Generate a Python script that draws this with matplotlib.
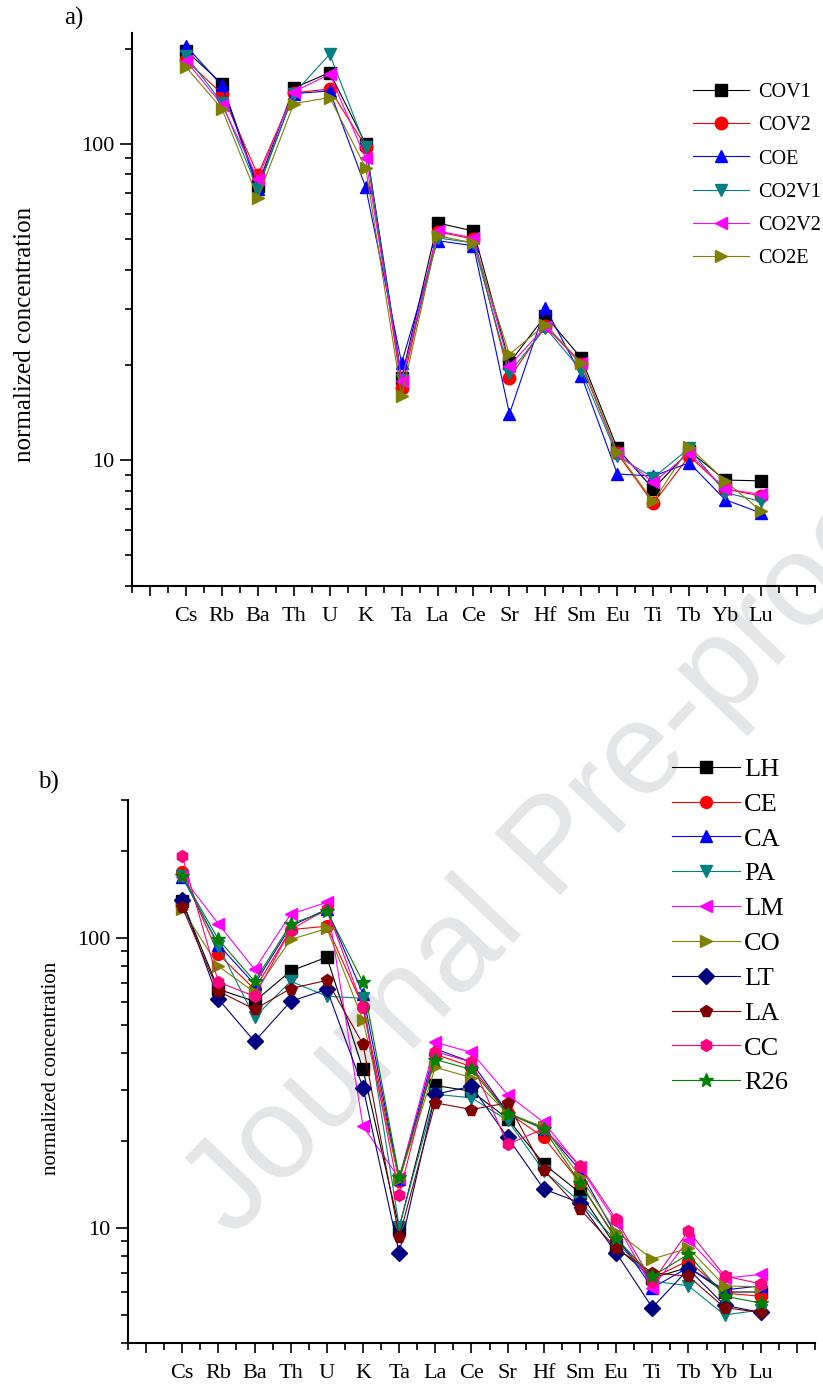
import matplotlib
matplotlib.use('Agg')
import matplotlib.pyplot as plt
from matplotlib.ticker import FixedLocator, LogLocator, NullFormatter, FixedFormatter, FuncFormatter

plt.rcParams['font.family'] = ['Liberation Serif', 'DejaVu Serif']

elements = ['Cs', 'Rb', 'Ba', 'Th', 'U', 'K', 'Ta', 'La', 'Ce', 'Sr',
            'Hf', 'Sm', 'Eu', 'Ti', 'Tb', 'Yb', 'Lu']

# panel a) values
cov1 = [197, 155, 73.7, 150, 168, 100, 18.2, 56.2, 53, 20.3, 28.6, 21.0, 10.9, 8.1, 10.7, 8.65, 8.6]
cov2 = [184, 144, 79.8, 145, 149, 98, 16.9, 52.7, 50, 18.2, 26.6, 20.1, 10.5, 7.3, 10.3, 8.1, 7.7]
coe = [204, 153, 72, 144, 147, 73, 20.3, 49.4, 47.6, 14.0, 30.3, 18.5, 9.04, 8.9, 9.8, 7.5, 6.8]
co2v1 = [190, 135, 72, 144, 192, 98, 17.9, 50.4, 48.6, 18.9, 26.2, 19.2, 10.3, 8.8, 10.9, 7.9, 7.4]
co2v2 = [183, 133, 77.5, 146, 166, 90, 17.8, 53, 50.4, 19.9, 26.4, 20.3, 10.5, 8.5, 10.5, 8.1, 7.8]
co2e = [175, 129, 67.5, 134, 140, 84, 15.9, 51.2, 48.6, 21.6, 26.8, 20.3, 10.6, 7.4, 11.0, 8.6, 6.9]

# panel b) values
lh = [134, 66.6, 60.5, 77, 86, 35.2, 10, 31.0, 29.6, 23.8, 16.6, 13.2, 8.6, 6.7, 7.3, 6.0, 6.0]
ce = [169, 88, 66.6, 107, 110, 58, 14.5, 39.7, 36, 25, 20.5, 14.3, 9.1, 6.7, 7.7, 5.95, 5.8]
ca = [163, 95, 69.3, 110, 126, 64, 14.7, 41.5, 37.3, 25, 22, 15.8, 9.4, 6.2, 7.3, 6.1, 6.3]
pa = [164, 94, 53.3, 71, 63, 62, 10.1, 28.9, 28.1, 23.5, 15.7, 12.3, 9.0, 6.55, 6.3, 5.0, 5.2]
lm = [163, 112, 78, 121, 133, 22.4, 14.8, 43.7, 40.3, 28.8, 23.1, 16.2, 10.4, 6.2, 9.1, 6.7, 6.9]
co = [126, 80, 65, 99, 108, 52.1, 14.7, 35.8, 33, 24.8, 22.3, 15, 9.7, 7.8, 8.5, 6.3, 6.25]
lt = [135, 61.6, 44.0, 60.5, 66.6, 30.5, 8.2, 28.9, 30.8, 20.5, 13.6, 12.2, 8.2, 5.3, 7.2, 5.4, 5.1]
la = [128, 65.6, 56.8, 67, 71.5, 43.0, 9.3, 27.0, 25.6, 27.0, 15.8, 11.6, 8.5, 7.0, 6.8, 5.3, 5.1]
cc = [192, 70.5, 63, 107, 126, 57.7, 13.0, 40.6, 37.3, 19.4, 22, 16.4, 10.7, 6.5, 9.76, 6.82, 6.4]
r26 = [164, 99, 71, 112, 124, 70.5, 15.0, 38.1, 35.2, 24.8, 21.9, 14.3, 9.2, 6.8, 8.1, 5.8, 5.5]

seriesA = [('COV1', cov1, 'black', 's'), ('COV2', cov2, 'red', 'o'),
           ('COE', coe, 'blue', '^'), ('CO2V1', co2v1, '#008080', 'v'),
           ('CO2V2', co2v2, 'magenta', '<'), ('CO2E', co2e, '#808000', '>')]
seriesB = [('LH', lh, 'black', 's'), ('CE', ce, 'red', 'o'),
           ('CA', ca, 'blue', '^'), ('PA', pa, '#008080', 'v'),
           ('LM', lm, 'magenta', '<'), ('CO', co, '#808000', '>'),
           ('LT', lt, '#000080', 'D'), ('LA', la, '#800000', 'p'),
           ('CC', cc, '#FF0080', 'h'), ('R26', r26, '#008000', '*')]

W, H = 823, 1385
fig = plt.figure(figsize=(W / 100, H / 100), dpi=100)

xpos = list(range(1, len(elements) + 1))


def style_axis(ax, ylim):
    ax.set_facecolor('none')
    ax.set_yscale('log')
    ax.set_ylim(*ylim)
    ax.set_xlim(-0.5, 18.5)
    ax.spines['top'].set_visible(False)
    ax.spines['right'].set_visible(False)
    for s in ('left', 'bottom'):
        ax.spines[s].set_linewidth(1.5)
    ax.xaxis.set_major_locator(FixedLocator(range(0, 19)))
    ax.xaxis.set_major_formatter(FixedFormatter([''] + elements + ['']))
    ax.xaxis.set_minor_locator(FixedLocator([i + 0.5 for i in range(-1, 19)]))
    ax.yaxis.set_major_locator(LogLocator(base=10))
    ax.yaxis.set_major_formatter(FuncFormatter(lambda v, p: '%g' % v))
    ax.yaxis.set_minor_locator(LogLocator(base=10, subs=range(2, 10)))
    ax.yaxis.set_minor_formatter(NullFormatter())
    ax.tick_params(which='major', direction='out', length=9, width=1.2, labelsize=16)
    ax.tick_params(which='minor', direction='out', length=5, width=1.2)
    ax.tick_params(axis='x', which='major', length=7, pad=8)


# a)
axA = fig.add_axes([132 / W, 1 - 586 / H, 683 / W, 553 / H])
style_axis(axA, (4, 224))
for name, vals, col, mk in seriesA:
    axA.plot(xpos, vals, color=col, marker=mk, markersize=9, linewidth=0.8, label=name)
axA.set_ylabel('normalized concentration', fontsize=18)
axA.yaxis.set_label_coords(-0.14, 0.455)
axA.legend(loc='upper left', bbox_to_anchor=(685 / W, 1 - 75 / H), bbox_transform=fig.transFigure,
           frameon=False, fontsize=14.5, handlelength=2.8, handletextpad=0.42, labelspacing=0.7,
           borderaxespad=0)
fig.text(64 / W, 1 - 18 / H, 'a)', fontsize=18, va='center')

# b)
axB = fig.add_axes([128 / W, 1 - 1343 / H, 687 / W, 543 / H])
style_axis(axB, (4, 300))
for name, vals, col, mk in seriesB:
    ms = 10 if mk == '*' else 8.5
    axB.plot(xpos, vals, color=col, marker=mk, markersize=ms, linewidth=0.8, label=name)
axB.set_ylabel('normalized concentration', fontsize=15)
axB.yaxis.set_label_coords(-0.097, 0.506)
axB.legend(loc='upper left', bbox_to_anchor=(661 / W, 1 - 747 / H), bbox_transform=fig.transFigure,
           frameon=False, fontsize=19, handlelength=2.6, handletextpad=0.15, labelspacing=0.43,
           borderaxespad=0)
fig.text(38 / W, 1 - 782 / H, 'b)', fontsize=18, va='center')

# watermark
fig.text(555 / W, 1 - 850 / H, 'Journal Pre-proof', fontsize=94, rotation=46.5,
         color='#e4e5e7', family=['Liberation Sans', 'DejaVu Sans'],
         ha='center', va='center', rotation_mode='anchor', zorder=-1)

fig.savefig('out.png', dpi=100)
